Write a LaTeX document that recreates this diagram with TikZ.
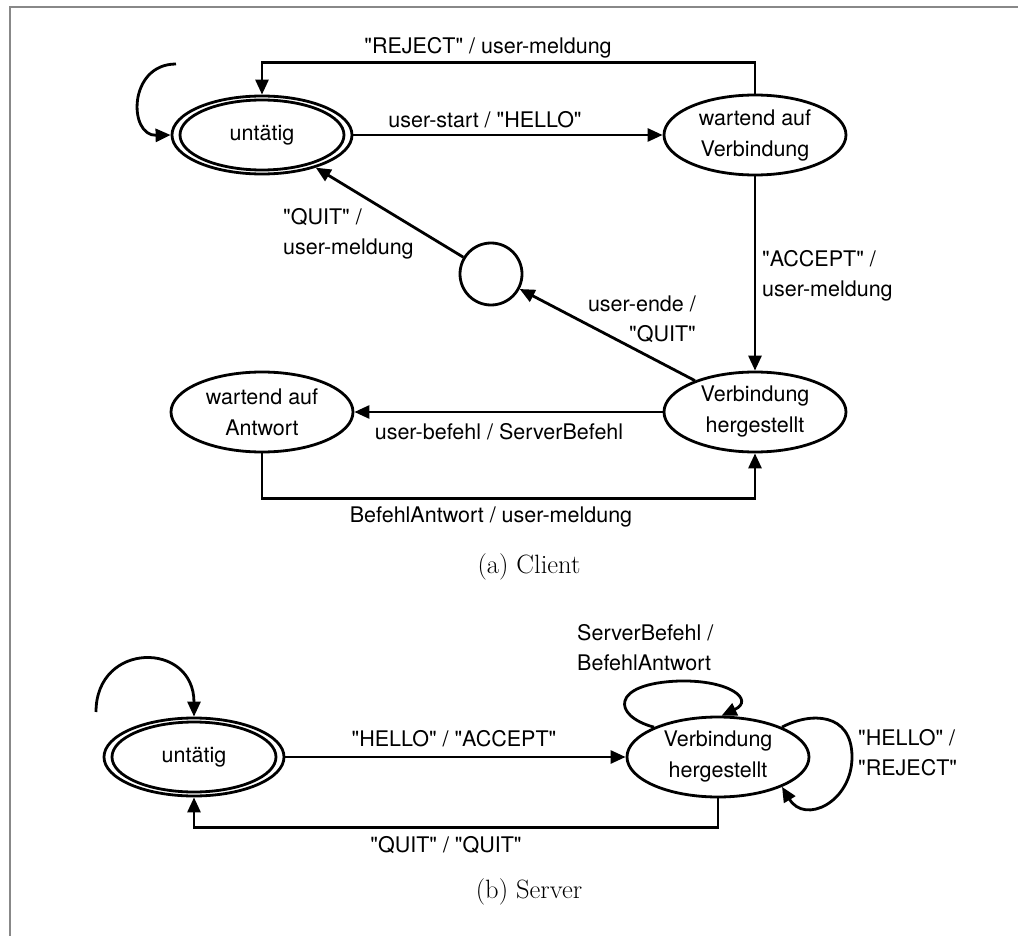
\documentclass[tikz,border=0pt]{standalone}
\usepackage{fontspec}
\newfontfamily\labelfont[Ligatures=TeXOff]{TeX Gyre Heros}
\usetikzlibrary{shapes.geometric,arrows.meta}
\definecolor{framegray}{RGB}{136,136,136}

\begin{document}
\begin{tikzpicture}[x=1pt,y=-1pt,
  every node/.style={inner sep=0pt},
  lab/.style={font=\labelfont\fontsize{21.5}{30}\selectfont},
  st/.style={ellipse,draw,line width=2.8pt,minimum width=182pt,minimum height=80pt,
    align=center,font=\labelfont\fontsize{21.5}{31}\selectfont},
  initst/.style={st,minimum width=180pt,minimum height=78pt},
  junction/.style={circle,draw,line width=2.8pt,minimum size=62pt},
  tr/.style={line width=2.8pt,-{Triangle[length=15pt,width=13pt]}},
  plain/.style={line width=2.8pt},
  captext/.style={font=\fontsize{26.5}{31}\selectfont}
]
\useasboundingbox (0,0) rectangle (1018,936);
\draw[framegray,line width=2pt] (10,936) -- (10,7) -- (1018,7);

% ---------------- (a) Client ----------------
\node[initst] (u1) at (262,135) {untätig};
\draw[plain] (u1.center) ellipse [x radius=82pt,y radius=35pt];
\node[st] (wv) at (755,135) {wartend auf\\Verbindung};
\node[junction] (c) at (491,274) {};
\node[st] (vh1) at (755,412) {Verbindung\\hergestellt};
\node[st] (wa) at (262,412) {wartend auf\\Antwort};

\coordinate (l1) at (176,64);
\draw[tr] (l1) .. controls (128,64) and (128,136) .. (u1.west);
\draw[tr] (wv.north) -- ++(0,-31) -| (u1.north);
\draw[tr] (u1.east) -- (wv.west);
\draw[tr] (c) -- (u1);
\draw[tr] (wv) -- (vh1);
\draw[tr] (vh1) -- (c);
\draw[tr] (vh1.west) -- (wa.east);
\draw[tr] (wa.south) -- ++(0,45) -| (vh1.south);

\node[lab] (t1) at (488,48) {"REJECT" / user-meldung};
\node[lab] (t2) at (485,120) {user-start / "HELLO"};
\node[lab,align=left,anchor=west] (t3) at (283,234) {"QUIT" /\\user-meldung};
\node[lab,align=left,anchor=west] (t4) at (762,276) {"ACCEPT" /\\user-meldung};
\node[lab,align=right,anchor=east] (t5) at (696,319) {user-ende /\\"QUIT"};
\node[lab] (t6) at (499,432) {user-befehl / ServerBefehl};
\node[lab] (t7) at (491,517) {BefehlAntwort / user-meldung};
\node[captext] (capa) at (529,567) {(a) Client};

% ---------------- (b) Server ----------------
\node[initst] (u2) at (194,757) {untätig};
\draw[plain] (u2.center) ellipse [x radius=82pt,y radius=35pt];
\node[st] (vh2) at (718,757) {Verbindung\\hergestellt};

\coordinate (l2) at (96,712);
\draw[tr] (l2) .. controls (96,641) and (194,641) .. (u2.north);
\draw[tr] (u2.east) -- (vh2.west);
\draw[tr] (vh2.south) -- ++(0,29) -| (u2.south);
\draw[tr] (vh2.155) .. controls (612,716) and (610,683) .. (680,681)
  .. controls (730,680) and (755,700) .. (vh2.85);
\draw[tr] (vh2.25) .. controls (810,712) and (852,712) .. (852,757)
  .. controls (852,802) and (805,825) .. (vh2.335);

\node[lab] (t8) at (454,739) {"HELLO" / "ACCEPT"};
\node[lab] (t9) at (446,845) {"QUIT" / "QUIT"};
\node[lab,align=left,anchor=west] (t10) at (577,648) {ServerBefehl /\\BefehlAntwort};
\node[lab,align=left,anchor=west] (t11) at (858,753) {"HELLO" /\\"REJECT"};
\node[captext] (capb) at (529,892) {(b) Server};
\end{tikzpicture}
\end{document}
